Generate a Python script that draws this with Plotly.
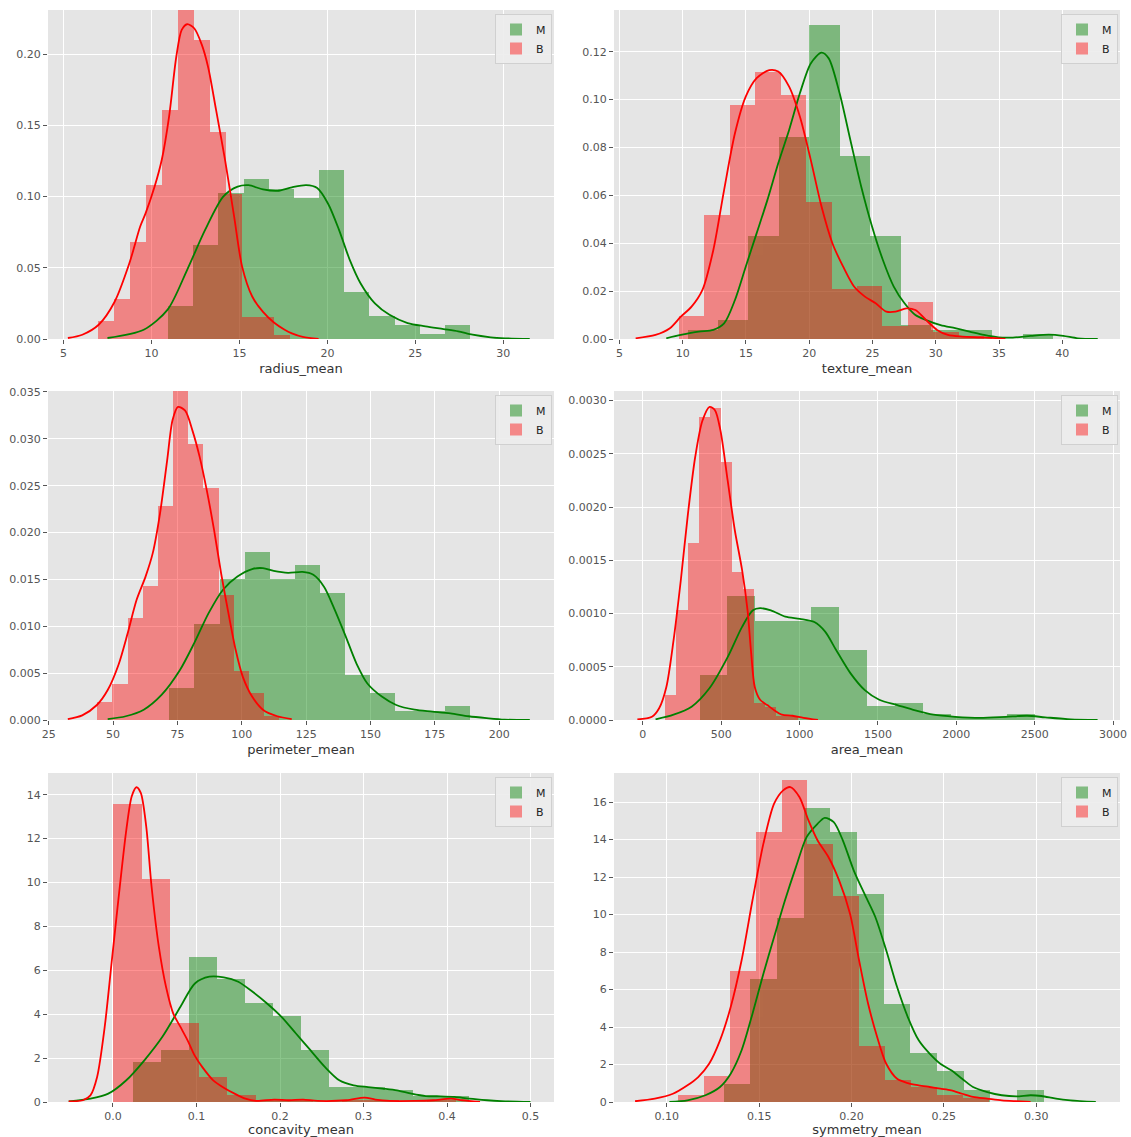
import numpy as np
import plotly.graph_objects as go
from plotly.subplots import make_subplots

# ---- feature names (x-axis titles) ----
features = ["radius_mean", "texture_mean", "perimeter_mean",
            "area_mean", "concavity_mean", "symmetry_mean"]

# ---- histogram data: (min, max) of each class and density per bin (12 bins) ----
radius_M_range = (10.95, 28.11)
radius_M_density = [0.0231, 0.066, 0.1023, 0.1122, 0.1056, 0.099, 0.1188, 0.033, 0.0165, 0.0099, 0.0033, 0.0099]
radius_B_range = (6.98, 17.85)
radius_B_density = [0.0124, 0.0278, 0.068, 0.1082, 0.1607, 0.2318, 0.2102, 0.1453, 0.102, 0.0155, 0.0155, 0.0031]

texture_M_range = (10.38, 39.28)
texture_M_density = [0.0039, 0.0078, 0.0431, 0.0842, 0.1312, 0.0764, 0.0431, 0.0059, 0.0039, 0.0039, 0.0, 0.002]
texture_B_range = (9.71, 33.81)
texture_B_density = [0.0098, 0.0516, 0.0977, 0.1116, 0.1018, 0.0572, 0.0209, 0.0223, 0.0056, 0.0153, 0.0028, 0.0014]

perimeter_M_range = (71.9, 188.5)
perimeter_M_density = [0.0034, 0.0102, 0.01504, 0.01795, 0.01504, 0.0165, 0.01359, 0.00485, 0.00291, 0.00097, 0.00097, 0.00146]
perimeter_B_range = (43.79, 114.6)
perimeter_B_density = [0.0019, 0.0038, 0.01092, 0.01425, 0.0228, 0.03514, 0.0294, 0.0247, 0.0133, 0.0052, 0.00285, 0.000475]

area_M_range = (361.6, 2501.0)
area_M_density = [0.000423, 0.00116, 0.000926, 0.000926, 0.00106, 0.000661, 0.000132, 0.000159, 0.000053, 0.000026, 0.000026, 0.000053]
area_B_range = (143.5, 992.1)
area_B_density = [0.000238, 0.00103, 0.00166, 0.00285, 0.00293, 0.00242, 0.00139, 0.00123, 0.000158, 0.000119, 0.00004, 0.00004]

concavity_M_range = (0.02398, 0.4268)
concavity_M_density = [1.83, 2.39, 6.6, 5.62, 4.5, 3.93, 2.39, 0.70, 0.70, 0.56, 0.28, 0.28]
concavity_B_range = (0.0, 0.4108)
concavity_B_density = [13.58, 10.15, 3.6, 1.145, 0.327, 0.08, 0.08, 0.0, 0.08, 0.08, 0.0, 0.08]

symmetry_M_range = (0.1308, 0.304)
symmetry_M_density = [0.98, 6.54, 9.81, 15.69, 14.38, 11.11, 5.23, 2.62, 1.63, 0.65, 0.0, 0.65]
symmetry_B_range = (0.106, 0.2743)
symmetry_B_density = [0.4, 1.4, 6.99, 14.38, 17.17, 13.78, 10.98, 3.0, 1.2, 0.8, 0.4, 0.2]

# ---- kernel density estimates (x, density) ----
radius_M_kde_x = [7.5, 9.56, 10.92, 12.03, 13.05, 14.08, 14.9, 15.52, 16.34, 17.16, 17.98, 18.8, 19.42, 20.04, 20.65, 21.27, 21.89, 22.7, 23.53, 24.56, 25.58, 26.6, 27.43, 28.25, 29.28, 30.1, 31.5]
radius_M_kde_y = [0.0007, 0.0065, 0.0206, 0.0486, 0.0766, 0.1, 0.107, 0.108, 0.105, 0.104, 0.1065, 0.108, 0.106, 0.095, 0.077, 0.0556, 0.039, 0.025, 0.017, 0.0112, 0.0089, 0.007, 0.0054, 0.003, 0.0012, 0.0005, 0.0]
radius_B_kde_x = [5.25, 6.07, 7.0, 7.9, 8.74, 9.36, 9.66, 10.18, 10.59, 11.0, 11.41, 11.72, 12.03, 12.44, 12.85, 13.22, 13.67, 14.18, 14.7, 15.15, 15.72, 16.34, 16.96, 17.57, 17.98, 18.6, 19.5]
radius_B_kde_y = [0.0007, 0.003, 0.010, 0.026, 0.053, 0.079, 0.088, 0.107, 0.126, 0.156, 0.198, 0.217, 0.221, 0.218, 0.207, 0.191, 0.161, 0.126, 0.086, 0.051, 0.030, 0.019, 0.0116, 0.0065, 0.004, 0.0015, 0.0]

texture_M_kde_x = [8.7, 9.85, 11.27, 12.42, 13.27, 14.13, 14.98, 15.84, 16.69, 17.55, 18.41, 19.26, 20.12, 20.97, 21.54, 22.4, 23.25, 24.11, 24.97, 25.82, 26.68, 27.53, 28.39, 29.24, 30.38, 31.53, 32.67, 33.81, 34.95, 36.09, 37.52, 38.94, 40.08, 41.22, 42.8]
texture_M_kde_y = [0.0003, 0.0017, 0.0031, 0.0038, 0.0065, 0.0163, 0.0302, 0.0441, 0.058, 0.0734, 0.0873, 0.1026, 0.1151, 0.1196, 0.1172, 0.1026, 0.0831, 0.0636, 0.0469, 0.033, 0.0219, 0.0149, 0.01, 0.0079, 0.0058, 0.0045, 0.0031, 0.0017, 0.0007, 0.0006, 0.0013, 0.0018, 0.0013, 0.0003, 0.0]
texture_B_kde_x = [6.28, 7.85, 8.99, 9.85, 10.7, 11.56, 12.42, 13.27, 14.13, 14.98, 15.84, 16.84, 17.55, 18.41, 19.26, 20.12, 20.97, 21.83, 22.68, 23.54, 24.4, 25.25, 26.1, 26.82, 27.68, 28.39, 29.24, 30.1, 30.96, 32.1, 33.52, 34.95, 35.5]
texture_B_kde_y = [0.0003, 0.0017, 0.0045, 0.0093, 0.0135, 0.0205, 0.0372, 0.0622, 0.0859, 0.1012, 0.1089, 0.1123, 0.1117, 0.1054, 0.0929, 0.0748, 0.0553, 0.04, 0.0302, 0.0219, 0.0177, 0.0149, 0.0114, 0.0114, 0.0128, 0.0121, 0.0079, 0.0038, 0.0017, 0.001, 0.0007, 0.0003, 0.0]

perimeter_M_kde_x = [47.9, 54.9, 61.9, 68.9, 75.9, 81.5, 87.1, 92.7, 98.3, 104.0, 108.2, 112.4, 118.0, 123.6, 127.8, 132.0, 136.2, 140.4, 144.6, 148.8, 154.4, 160.0, 167.1, 174.1, 181.1, 188.1, 195.1, 202.1, 211.9]
perimeter_M_kde_y = [0.0001, 0.0004, 0.0011, 0.0027, 0.0053, 0.0082, 0.0114, 0.0139, 0.0153, 0.0161, 0.0162, 0.0159, 0.0157, 0.0158, 0.0155, 0.0142, 0.0117, 0.0089, 0.006, 0.0039, 0.0025, 0.0016, 0.0011, 0.0009, 0.0007, 0.0004, 0.0002, 0.00004, 0.0]
perimeter_B_kde_x = [32.4, 38.0, 43.7, 47.9, 52.1, 55.6, 59.1, 62.6, 65.4, 68.2, 71.0, 73.1, 75.2, 78.0, 80.8, 83.6, 86.4, 89.2, 92.0, 94.8, 97.6, 100.4, 104.0, 108.2, 113.8, 119.4]
perimeter_B_kde_y = [0.0001, 0.0005, 0.0016, 0.0032, 0.0059, 0.0092, 0.0128, 0.0153, 0.0178, 0.022, 0.0277, 0.032, 0.0334, 0.033, 0.0309, 0.0281, 0.0245, 0.0203, 0.0156, 0.0114, 0.0075, 0.0046, 0.0025, 0.0011, 0.0004, 0.0001]

area_M_kde_x = [81, 196, 311, 426, 541, 633, 702, 748, 817, 909, 1002, 1094, 1163, 1232, 1324, 1416, 1508, 1623, 1738, 1854, 1992, 2153, 2314, 2452, 2567, 2729, 2901]
area_M_kde_y = [0.000006, 0.00005, 0.000125, 0.0003, 0.00059, 0.000875, 0.00103, 0.00105, 0.00103, 0.00097, 0.00095, 0.00092, 0.00083, 0.00066, 0.00044, 0.00028, 0.00019, 0.00014, 0.00009, 0.00005, 0.00003, 0.00002, 0.00003, 0.00004, 0.000025, 0.000006, 0.0]
area_B_kde_x = [-35, 58, 104, 150, 196, 242, 288, 334, 380, 426, 460, 495, 541, 587, 633, 668, 691, 714, 748, 794, 840, 886, 955, 1025, 1117]
area_B_kde_y = [0.000006, 0.00003, 0.00011, 0.00031, 0.00075, 0.00131, 0.00194, 0.00247, 0.00281, 0.00294, 0.00291, 0.00272, 0.00225, 0.00178, 0.00141, 0.00103, 0.00063, 0.00031, 0.00019, 0.00014, 0.00009, 0.00005, 0.00004, 0.00002, 0.0]

concavity_M_kde_x = [-0.053, -0.027, -0.0056, 0.016, 0.0376, 0.0592, 0.0808, 0.0981, 0.1154, 0.1327, 0.15, 0.1672, 0.1845, 0.2018, 0.2191, 0.2364, 0.2537, 0.271, 0.2882, 0.3055, 0.3228, 0.3401, 0.3574, 0.3747, 0.392, 0.4092, 0.4265, 0.4481, 0.4697, 0.5]
concavity_M_kde_y = [0.03, 0.15, 0.38, 0.99, 1.9, 2.97, 4.34, 5.4, 5.71, 5.68, 5.48, 5.02, 4.49, 3.88, 3.12, 2.36, 1.6, 0.99, 0.76, 0.68, 0.61, 0.53, 0.38, 0.27, 0.26, 0.23, 0.15, 0.08, 0.03, 0.0]
concavity_B_kde_x = [-0.053, -0.036, -0.027, -0.019, -0.0099, -0.0013, 0.0073, 0.016, 0.0225, 0.0281, 0.0333, 0.0398, 0.0462, 0.0549, 0.0635, 0.0722, 0.0808, 0.0895, 0.0981, 0.1068, 0.1197, 0.1327, 0.1456, 0.1586, 0.1716, 0.193, 0.2105, 0.2277, 0.245, 0.2796, 0.3012, 0.3142, 0.3315, 0.3617, 0.3833, 0.4049, 0.4179, 0.4395]
concavity_B_kde_y = [0.03, 0.08, 0.3, 1.14, 3.42, 6.47, 9.51, 12.4, 13.93, 14.34, 14.08, 12.56, 9.82, 7.08, 5.25, 4.03, 3.42, 2.8, 2.1, 1.6, 1.0, 0.65, 0.38, 0.15, 0.05, 0.11, 0.08, 0.11, 0.05, 0.08, 0.2, 0.11, 0.05, 0.05, 0.08, 0.15, 0.08, 0.0]

symmetry_M_kde_x = [0.1014, 0.1112, 0.1209, 0.1288, 0.1346, 0.1405, 0.1464, 0.1523, 0.1581, 0.164, 0.1699, 0.1757, 0.1816, 0.1855, 0.1904, 0.1953, 0.2012, 0.207, 0.2129, 0.2188, 0.2247, 0.2305, 0.2364, 0.2423, 0.2481, 0.254, 0.2599, 0.2658, 0.2736, 0.2814, 0.2892, 0.297, 0.3029, 0.3108, 0.3186, 0.3323]
symmetry_M_kde_y = [0.0, 0.09, 0.36, 0.8, 1.51, 2.76, 4.71, 6.84, 8.8, 10.76, 12.53, 14.13, 14.84, 15.16, 14.93, 13.96, 12.36, 11.11, 9.87, 8.09, 6.13, 4.53, 3.29, 2.58, 2.04, 1.69, 1.24, 0.8, 0.53, 0.36, 0.3, 0.36, 0.32, 0.18, 0.09, 0.0]
symmetry_B_kde_x = [0.0828, 0.0935, 0.1033, 0.1112, 0.117, 0.1229, 0.1288, 0.1346, 0.1405, 0.1464, 0.1523, 0.1581, 0.163, 0.1669, 0.1718, 0.1767, 0.1816, 0.1875, 0.1933, 0.1992, 0.2041, 0.209, 0.2139, 0.2188, 0.2247, 0.2305, 0.2364, 0.2423, 0.2481, 0.254, 0.2599, 0.2658, 0.2736, 0.2814, 0.2892, 0.297]
symmetry_B_kde_y = [0.04, 0.18, 0.44, 0.89, 1.33, 2.04, 3.29, 5.07, 7.56, 10.76, 13.78, 15.91, 16.62, 16.8, 16.27, 15.02, 13.96, 13.07, 11.82, 10.04, 7.56, 5.24, 3.47, 2.04, 1.24, 1.01, 0.89, 0.8, 0.71, 0.62, 0.44, 0.27, 0.18, 0.09, 0.04, 0.0]

panels = [
    (radius_M_range, radius_M_density, radius_B_range, radius_B_density,
     radius_M_kde_x, radius_M_kde_y, radius_B_kde_x, radius_B_kde_y),
    (texture_M_range, texture_M_density, texture_B_range, texture_B_density,
     texture_M_kde_x, texture_M_kde_y, texture_B_kde_x, texture_B_kde_y),
    (perimeter_M_range, perimeter_M_density, perimeter_B_range, perimeter_B_density,
     perimeter_M_kde_x, perimeter_M_kde_y, perimeter_B_kde_x, perimeter_B_kde_y),
    (area_M_range, area_M_density, area_B_range, area_B_density,
     area_M_kde_x, area_M_kde_y, area_B_kde_x, area_B_kde_y),
    (concavity_M_range, concavity_M_density, concavity_B_range, concavity_B_density,
     concavity_M_kde_x, concavity_M_kde_y, concavity_B_kde_x, concavity_B_kde_y),
    (symmetry_M_range, symmetry_M_density, symmetry_B_range, symmetry_B_density,
     symmetry_M_kde_x, symmetry_M_kde_y, symmetry_B_kde_x, symmetry_B_kde_y),
]

# axis settings per panel: x range, x tick step, x format, y range, y tick step, y format
axis_cfg = [
    ([4.12, 32.88], 5, "d", [0, 0.231], 0.05, ".2f"),
    ([4.57, 44.56], 5, "d", [0, 0.1374], 0.02, ".2f"),
    ([24.7, 221.3], 25, "d", [0, 0.0351], 0.005, ".3f"),
    ([-184, 3044], 500, "d", [0, 0.00309], 0.0005, ".4f"),
    ([-0.0778, 0.5281], 0.1, ".1f", [0, 14.99], 2, "d"),
    ([0.0714, 0.3454], 0.05, ".2f", [0, 17.55], 2, "d"),
]

W, H = 1131, 1137
col_px = [(48, 554), (614, 1120)]
row_px = [(10, 339), (391, 720), (773, 1102)]

GREEN = "#008000"
RED = "#ff0000"
FONT = "DejaVu Sans"
TXT = "#555555"

fig = make_subplots(rows=3, cols=2)


def bins_from(rng, dens):
    edges = np.linspace(rng[0], rng[1], len(dens) + 1)
    return (edges[:-1] + edges[1:]) / 2, edges[1] - edges[0]


for i, (mr, md, br, bd, mkx, mky, bkx, bky) in enumerate(panels):
    r, c = i // 2 + 1, i % 2 + 1
    leg = "legend" if i == 0 else f"legend{i + 1}"
    mc, mw = bins_from(mr, md)
    bc, bw = bins_from(br, bd)
    fig.add_trace(go.Bar(x=mc, y=md, width=mw, name="M", marker=dict(color=GREEN, line=dict(width=0)),
                         opacity=0.45, legend=leg, hoverinfo="skip"), row=r, col=c)
    fig.add_trace(go.Scatter(x=mkx, y=mky, mode="lines", line=dict(color=GREEN, width=1.8, shape="spline", smoothing=0.8),
                             showlegend=False, hoverinfo="skip"), row=r, col=c)
    fig.add_trace(go.Bar(x=bc, y=bd, width=bw, name="B", marker=dict(color=RED, line=dict(width=0)),
                         opacity=0.42, legend=leg, hoverinfo="skip"), row=r, col=c)
    fig.add_trace(go.Scatter(x=bkx, y=bky, mode="lines", line=dict(color=RED, width=1.8, shape="spline", smoothing=0.8),
                             showlegend=False, hoverinfo="skip"), row=r, col=c)

layout_updates = {}
for i, name in enumerate(features):
    r, c = i // 2, i % 2
    x0, x1 = col_px[c]
    y0, y1 = row_px[r]
    xr, xd, xf, yr, yd, yf = axis_cfg[i]
    sfx = "" if i == 0 else str(i + 1)
    layout_updates["xaxis" + sfx] = dict(
        domain=[x0 / W, x1 / W], range=xr, dtick=xd, tick0=0, tickformat=xf,
        showgrid=True, gridcolor="white", gridwidth=1, zeroline=False,
        ticks="outside", ticklen=4, tickcolor=TXT, tickfont=dict(family=FONT, size=11, color=TXT),
        title=dict(text=name, font=dict(family=FONT, size=13, color="#333333"), standoff=4),
        showline=False, automargin=False,
    )
    layout_updates["yaxis" + sfx] = dict(
        domain=[1 - y1 / H, 1 - y0 / H], range=yr, dtick=yd, tick0=0, tickformat=yf,
        showgrid=True, gridcolor="white", gridwidth=1, zeroline=False,
        ticks="outside", ticklen=4, tickcolor=TXT, tickfont=dict(family=FONT, size=11, color=TXT),
        showline=False, automargin=False,
    )
    layout_updates["legend" if i == 0 else f"legend{i + 1}"] = dict(
        x=(x1 - 2) / W, xanchor="right", y=1 - (y0 + 4) / H, yanchor="top",
        bgcolor="rgba(236,236,236,0.9)", bordercolor="#d0d0d0", borderwidth=1,
        font=dict(family=FONT, size=11, color="#222222"), tracegroupgap=0,
        itemwidth=30, traceorder="normal",
    )

fig.update_layout(**layout_updates)
fig.update_layout(
    width=W, height=H, margin=dict(l=0, r=0, t=0, b=0, autoexpand=False),
    paper_bgcolor="white", plot_bgcolor="#E5E5E5",
    barmode="overlay", bargap=0, showlegend=True,
    font=dict(family=FONT, color=TXT),
)

fig.write_html("out.html")
